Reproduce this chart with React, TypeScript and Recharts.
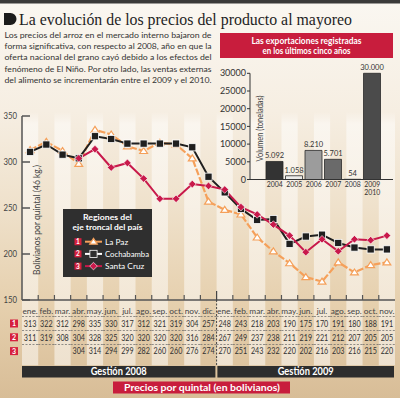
import React from 'react';
import {
  ComposedChart, Line, XAxis, YAxis, ReferenceArea, Legend,
  BarChart, Bar, Cell, LabelList,
} from 'recharts';

const titulo = 'La evolución de los precios del producto al mayoreo';
const parrafo = [
  'Los precios del arroz en el mercado interno bajaron de',
  'forma significativa, con respecto al 2008, año en que la',
  'oferta nacional del grano cayó debido a los efectos del',
  'fenómeno de El Niño. Por otro lado, las ventas externas',
  'del alimento se incrementarán entre el 2009 y el 2010.',
];

const meses2008 = ['ene.', 'feb.', 'mar.', 'abr.', 'may.', 'jun.', 'jul.', 'ago.', 'sep.', 'oct.', 'nov.', 'dic.'];
const meses2009 = ['ene.', 'feb.', 'mar.', 'abr.', 'may.', 'jun.', 'jul.', 'ago.', 'sep.', 'oct.', 'nov.'];
const laPaz = [313, 322, 312, 298, 335, 330, 317, 312, 321, 319, 304, 257, 248, 243, 218, 203, 190, 175, 170, 191, 180, 188, 191];
const cochabamba = [311, 319, 308, 304, 328, 325, 320, 320, 320, 320, 316, 284, 267, 249, 237, 238, 211, 219, 221, 212, 207, 205, 205];
const santaCruz = [null, null, null, 304, 314, 294, 299, 282, 260, 260, 276, 274, 270, 251, 243, 232, 220, 202, 216, 203, 216, 215, 220];
const precioTicks = [150, 200, 250, 300, 350];

const anios = ['2004', '2005', '2006', '2007', '2008', '2009/2010'];
const exportaciones = [5092, 1058, 8210, 5701, 54, 30000];
const coloresBarras = ['#333333', '#ececea', '#9c9c9c', '#6a6a6a', '#cfcfcf', '#4b4b4b'];
const volumenTicks = [0, 5000, 10000, 15000, 20000, 25000, 30000];

const NARANJA = '#f5a05a';
const NEGRO = '#1f1f1f';
const ROJO = '#c8194b';
const ROJO_CAJA = '#c81d3d';

const series = [
  { key: 'laPaz', name: 'La Paz', color: NARANJA },
  { key: 'cochabamba', name: 'Cochabamba', color: NEGRO },
  { key: 'santaCruz', name: 'Santa Cruz', color: ROJO },
];

const meses = [...meses2008.map((m) => ['2008', m]), ...meses2009.map((m) => ['2009', m])];
const datos = meses.map(([anio, m], i) => ({
  id: `${anio}-${m}`,
  laPaz: laPaz[i],
  cochabamba: cochabamba[i],
  santaCruz: santaCruz[i],
}));
const datosExport = anios.map((a, i) => ({ anio: a, v: exportaciones[i] }));

const BANDA = (400 - 5 - 22) / meses.length;

function Triangulo({ cx, cy, s = 3.4 }: any) {
  return (
    <path d={`M${cx},${cy - s} L${cx + s * 1.15},${cy + s * 0.75} L${cx - s * 1.15},${cy + s * 0.75} Z`}
      fill="#fff" stroke={NARANJA} strokeWidth={1.2} />
  );
}
function Cuadro({ cx, cy, fill = NEGRO, stroke = '#fff' }: any) {
  return <rect x={cx - 3.6} y={cy - 3.6} width={7.2} height={7.2} fill={fill} stroke={stroke} strokeWidth={0.8} />;
}
function Rombo({ cx, cy, s = 3.8 }: any) {
  return (
    <path d={`M${cx},${cy - s} L${cx + s},${cy} L${cx},${cy + s} L${cx - s},${cy} Z`}
      fill={ROJO} stroke="#fff" strokeWidth={0.6} />
  );
}

const dotFn = (Comp: any) => (p: any) =>
  p.cy == null || p.value == null ? <g key={`n-${p.index}`} /> : <Comp key={`d-${p.index}`} cx={p.cx} cy={p.cy} />;

function MesTick(props: any) {
  const { x, y, index } = props;
  const mes = meses[index][1];
  const h = BANDA / 2;
  const filas = [laPaz[index], cochabamba[index], santaCruz[index]];
  return (
    <g>
      {index < meses.length - 1 && index !== 11 && (
        <line x1={x + h} x2={x + h} y1={y - 5} y2={y} stroke="#555" strokeWidth={1.2} />
      )}
      {index === 11 && (
        <g>
          <line x1={x + h} x2={x + h} y1={y - 9} y2={y} stroke="#444" strokeWidth={1.2} />
          <line x1={x + h} x2={x + h} y1={y} y2={y + 66} stroke="#444" strokeWidth={1} strokeDasharray="2 1.5" />
        </g>
      )}
      <text x={x} y={y + 13.5} textAnchor="middle" fontSize={8.3} fill="#444">{mes}</text>
      {[16.5, 30.5, 44.5].map((dy) => (
        <line key={dy} x1={x - h} x2={x + h} y1={y + dy} y2={y + dy} stroke="#666" strokeWidth={0.7} strokeDasharray="2 1.5" />
      ))}
      {filas.map((v, i) =>
        v == null ? null : (
          <text key={i} x={x} y={y + 26.8 + i * 13.8} textAnchor="middle" fontSize={8.6} fill="#333"
            textLength={12.5} lengthAdjust="spacingAndGlyphs">{v}</text>
        ),
      )}
    </g>
  );
}

function PrecioTick({ x, y, payload }: any) {
  return (
    <g>
      <line x1={x + 5} x2={x + 13} y1={y} y2={y} stroke="#555" strokeWidth={1.5} />
      <text x={x} y={y + 3.3} textAnchor="end" fontSize={9} fill="#444" textLength={13.5} lengthAdjust="spacingAndGlyphs">
        {payload.value}
      </text>
    </g>
  );
}

function AnioTick({ x, y, payload }: any) {
  const lineas = String(payload.value).split('/');
  return (
    <g>
      {lineas.map((l, i) => (
        <text key={i} x={x} y={y + 7 + i * 8} textAnchor="middle" fontSize={7.5} fill="#333"
          textLength={16} lengthAdjust="spacingAndGlyphs">{l}</text>
      ))}
    </g>
  );
}

const miles = (v: any) => String(v).replace(/\B(?=(\d{3})+(?!\d))/g, '.');

function Leyenda() {
  return (
    <div style={{ width: 89, height: 68, background: '#2f2f2f' }}>
      <svg width={89} height={68} style={{ display: 'block', overflow: 'visible' }}>
        <text x={44.5} y={11} textAnchor="middle" fill="#fff" fontWeight="bold" fontSize={8.2}
          textLength={49} lengthAdjust="spacingAndGlyphs">Regiones del</text>
        <text x={44.5} y={20.6} textAnchor="middle" fill="#fff" fontWeight="bold" fontSize={8.2}
          textLength={70} lengthAdjust="spacingAndGlyphs">eje troncal del país</text>
        {series.map((s, i) => {
          const cy = 32.7 + i * 12.2;
          const lineColor = s.key === 'cochabamba' ? '#fff' : s.color;
          return (
            <g key={s.key}>
              <rect x={11.5} y={cy - 3.5} width={7} height={7} fill="#d6203e" />
              <text x={15} y={cy + 2.4} textAnchor="middle" fontSize={6.5} fontWeight="bold" fill="#fff">{i + 1}</text>
              <line x1={22} x2={39} y1={cy} y2={cy} stroke={lineColor} strokeWidth={2} />
              {s.key === 'laPaz' && <Triangulo cx={30.5} cy={cy} s={3.3} />}
              {s.key === 'cochabamba' && <Cuadro cx={30.5} cy={cy} fill="#2f2f2f" stroke="#fff" />}
              {s.key === 'santaCruz' && <Rombo cx={30.5} cy={cy} s={3.8} />}
              <text x={42} y={cy + 3} fontSize={8.3} fill="#fff"
                textLength={s.key === 'cochabamba' ? 44 : undefined} lengthAdjust="spacingAndGlyphs">{s.name}</text>
            </g>
          );
        })}
      </svg>
    </div>
  );
}

export default function App() {
  return (
    <div
      style={{
        position: 'absolute', left: 0, top: 0, width: 400, height: 398, overflow: 'hidden',
        fontFamily: 'Lato, "Open Sans", sans-serif',
        background: 'linear-gradient(180deg, #faf7f1 0%, #f6eee2 28%, #efe1cb 52%, #e6d0ae 76%, #d8bd97 100%)',
      }}
    >
      <div style={{ position: 'absolute', left: 0, top: 0 }}>
        <ComposedChart width={400} height={398} data={datos} margin={{ top: 116, right: 5, left: 0, bottom: 0 }}>
          <defs>
            <linearGradient id="franja" x1="0" y1="0" x2="0" y2="1">
              <stop offset="0" stopColor="#fff" stopOpacity={0} />
              <stop offset="0.05" stopColor="#fff" stopOpacity={0.5} />
              <stop offset="1" stopColor="#fff" stopOpacity={0.5} />
            </linearGradient>
          </defs>
          {datos.filter((_, i) => i % 2 === 0).map((d) => (
            <ReferenceArea key={d.id} x1={d.id} x2={d.id} y1={79} y2={355} ifOverflow="visible"
              fill="url(#franja)" fillOpacity={1} stroke="none" />
          ))}
          <XAxis dataKey="id" type="category" scale="band" interval={0} height={98}
            tickSize={0} tickMargin={0} tickLine={false} tick={<MesTick />}
            axisLine={{ stroke: '#555', strokeWidth: 1.5 }} />
          <YAxis domain={[150, 350]} ticks={precioTicks} width={22} allowDataOverflow
            tickSize={0} tickMargin={5} tickLine={false} tick={<PrecioTick />}
            axisLine={{ stroke: '#555', strokeWidth: 1.5 }}
            label={({ viewBox }: any) => (
              <text transform={`translate(${viewBox.x + viewBox.width + 18},${viewBox.y + viewBox.height / 2 + 12}) rotate(-90)`}
                textAnchor="middle" fontSize={9.3} fill="#444" textLength={110} lengthAdjust="spacingAndGlyphs">
                Bolivianos por quintal (46 kg.)
              </text>
            )} />
          <Line dataKey="laPaz" name="La Paz" stroke={NARANJA} strokeWidth={2.2} strokeDasharray="7 2"
            dot={dotFn(Triangulo)} activeDot={false} isAnimationActive={false} />
          <Line dataKey="cochabamba" name="Cochabamba" stroke={NEGRO} strokeWidth={2}
            dot={dotFn(Cuadro)} activeDot={false} isAnimationActive={false} />
          <Line dataKey="santaCruz" name="Santa Cruz" stroke={ROJO} strokeWidth={2}
            dot={dotFn(Rombo)} activeDot={false} isAnimationActive={false} />
          <Legend layout="vertical" align="center" verticalAlign="middle" content={() => <Leyenda />}
            wrapperStyle={{ left: 63, top: 209, width: 89, height: 68 }} />
        </ComposedChart>
      </div>

      <div style={{ position: 'absolute', left: 215, top: 60 }}>
        <BarChart width={180} height={146} data={datosExport} margin={{ top: 13.3, right: 2, left: 0, bottom: 0 }}>
          <XAxis dataKey="anio" padding={{ left: 15, right: 11 }} height={26.5} interval={0}
            tickSize={0} tickMargin={0} tickLine={false} tick={<AnioTick />}
            axisLine={{ stroke: '#333', strokeWidth: 1 }} />
          <YAxis domain={[0, 30000]} ticks={volumenTicks} width={35} tickSize={3} tickMargin={1}
            tick={{ fontSize: 9, fill: '#333' }} tickLine={{ stroke: '#333' }}
            axisLine={{ stroke: '#333', strokeWidth: 1 }}
            label={({ viewBox }: any) => (
              <text transform={`translate(${viewBox.x + viewBox.width + 13},${viewBox.y + viewBox.height / 2 + 2}) rotate(-90)`}
                textAnchor="middle" fontSize={8.8} fill="#444" textLength={66} lengthAdjust="spacingAndGlyphs">
                Volumen (toneladas)
              </text>
            )} />
          <Bar dataKey="v" barSize={17} stroke="#2a2a2a" strokeWidth={0.8} isAnimationActive={false}>
            {datosExport.map((d, i) => <Cell key={d.anio} fill={coloresBarras[i]} />)}
            <LabelList dataKey="v" position="top" offset={3} formatter={miles} fontSize={7.5} fill="#333" />
          </Bar>
        </BarChart>
      </div>

      <svg width={400} height={398} style={{ position: 'absolute', left: 0, top: 0, pointerEvents: 'none' }}>
        <rect x={0} y={0} width={400} height={3.5} fill="#3a3a3a" />
        <path d="M4 13 H10.5 A6 6 0 0 1 10.5 25 H4 Z" fill="#1b1b1b" />
        <text x={19} y={24.5} fontFamily="'Liberation Serif', 'DejaVu Serif', serif" fontSize={16.5} fill="#1e1e1e"
          textLength={333} lengthAdjust="spacingAndGlyphs">{titulo}</text>
        {parrafo.map((l, i) => (
          <text key={i} x={4.5} y={38 + i * 11.2} fontSize={8.4} fill="#333"
            textLength={207} lengthAdjust="spacingAndGlyphs">{l}</text>
        ))}
        <rect x={220} y={33} width={173} height={25} fill={ROJO_CAJA} />
        <text x={306.5} y={44} textAnchor="middle" fontSize={9.5} fontWeight="bold" fill="#fff"
          textLength={110} lengthAdjust="spacingAndGlyphs">Las exportaciones registradas</text>
        <text x={306.5} y={54} textAnchor="middle" fontSize={9.5} fontWeight="bold" fill="#fff"
          textLength={88} lengthAdjust="spacingAndGlyphs">en los últimos cinco años</text>
        {['1', '2', '3'].map((n, i) => (
          <g key={n}>
            <rect x={10} y={319.5 + i * 13.8} width={8} height={8} fill="#d6203e" />
            <text x={14} y={326 + i * 13.8} textAnchor="middle" fontSize={7} fontWeight="bold" fill="#fff">{n}</text>
          </g>
        ))}
        <rect x={22} y={366} width={193.4} height={11.5} fill="#2d2d2d" />
        <rect x={217.4} y={366} width={176.6} height={11.5} fill="#2d2d2d" />
        <text x={118.7} y={375.3} textAnchor="middle" fontSize={10.5} fontWeight="bold" fill="#fff"
          textLength={56} lengthAdjust="spacingAndGlyphs">Gestión 2008</text>
        <text x={305.7} y={375.3} textAnchor="middle" fontSize={10.5} fontWeight="bold" fill="#fff"
          textLength={56} lengthAdjust="spacingAndGlyphs">Gestión 2009</text>
        <rect x={113} y={381.5} width={177} height={12} fill={ROJO_CAJA} />
        <text x={202} y={390.7} textAnchor="middle" fontSize={9.5} fontWeight="bold" fill="#fff"
          textLength={156} lengthAdjust="spacingAndGlyphs">Precios por quintal (en bolivianos)</text>
      </svg>
    </div>
  );
}
